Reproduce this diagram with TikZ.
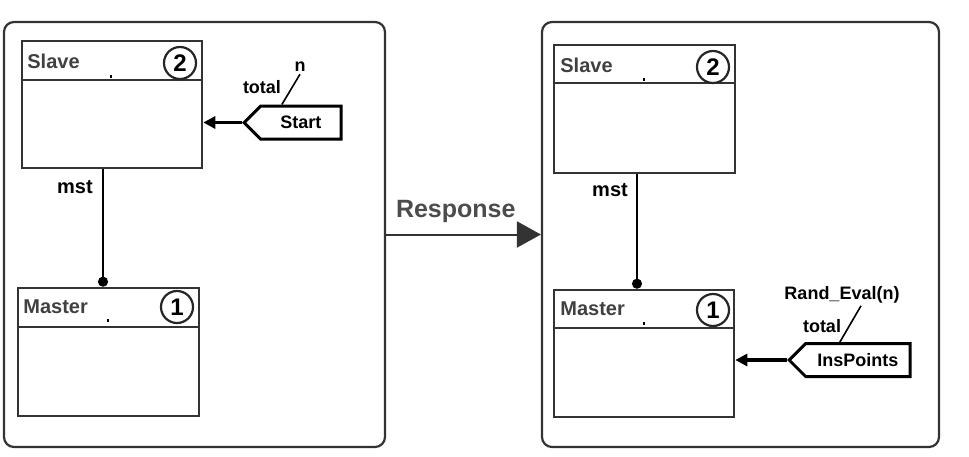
\documentclass[tikz,border=0pt]{standalone}
\usepackage{fontspec}
\setmainfont{Liberation Sans}
\usetikzlibrary{arrows.meta,shapes.symbols}
\begin{document}
\begin{tikzpicture}[x=0.5pt,y=-0.5pt,font=\bfseries,
  frame/.style={draw=black!80, line width=1.1pt, rounded corners=5pt, minimum height=212.5pt, inner sep=0pt},
  cls/.style={draw=black!80, line width=1.3pt, inner sep=0pt},
  num/.style={circle, draw=black!85, line width=1.1pt, minimum size=16pt, inner sep=0pt, font=\bfseries\large},
  ttl/.style={anchor=west, inner sep=0pt, text=black!75},
  tag/.style={signal, signal to=west, draw=black, line width=1.5pt, inner sep=0pt, minimum height=16.5pt, anchor=west, font=\bfseries\small},
  lbl/.style={inner sep=1pt, font=\bfseries\small},
  feed/.style={line width=1.6pt, -{Triangle[length=6pt,width=6pt]}},
  link/.style={line width=1.2pt, {Circle[length=5pt]}-},
  tie/.style={line width=0.8pt},
  resp/.style={draw=black!80, line width=1pt, -{Triangle[length=12pt,width=13pt]}}]
\useasboundingbox (0,0) rectangle (969,456);
% frames
\node[frame, minimum width=190.5pt] (lframe) at (194.5,234.5) {};
\node[frame, minimum width=198.5pt] (rframe) at (740.5,234.5) {};
\draw[resp] (lframe.east) -- (rframe.west) node[pos=0.45, above=2pt, text=black!70, font=\bfseries\fontsize{12.5}{15}\selectfont]{Response};
% left side
\node[cls, minimum width=90pt, minimum height=63.5pt] (slaveL) at (112,104.5) {};
\draw[cls] (slaveL.west |- 0,80) -- (slaveL.east |- 0,80);
\draw[line width=0.6pt] (111,75) -- (111,78);
\node[ttl] at (27,61) {Slave};
\node[num] (twoL) at (180,63) {2};
\node[cls, minimum width=90.5pt, minimum height=64pt] (masterL) at (108.5,352) {};
\draw[cls] (masterL.west |- 0,327) -- (masterL.east |- 0,327);
\draw[line width=0.6pt] (108,319) -- (108,322);
\node[ttl] at (23,307) {Master};
\node[num] (oneL) at (177,307) {1};
\coordinate (mstL) at (103,0);
\draw[link] (masterL.north -| mstL) -- (slaveL.south -| mstL);
\node at (75,187) {mst};
\node[tag, minimum width=48.5pt] (start) at (242,122.5) {Start};
\draw[feed] (start.west) -- (start.west -| slaveL.east);
\node[lbl] (nL) at (300,67) {n};
\node[lbl] at (262,87) {total};
\draw[tie] ([xshift=-9.5pt]start.north) -- (nL.south);
% right side
\node[cls, minimum width=90.5pt, minimum height=64pt] (slaveR) at (644.5,109) {};
\draw[cls] (slaveR.west |- 0,83) -- (slaveR.east |- 0,83);
\draw[line width=0.6pt] (644,78) -- (644,81);
\node[ttl] at (560,65) {Slave};
\node[num] (twoR) at (713,67) {2};
\node[cls, minimum width=90pt, minimum height=63.5pt] (masterR) at (644,353.5) {};
\draw[cls] (masterR.west |- 0,328) -- (masterR.east |- 0,328);
\draw[line width=0.6pt] (644,322) -- (644,325);
\node[ttl] at (560,309) {Master};
\node[num] (oneR) at (713,310) {1};
\coordinate (mstR) at (637,0);
\draw[link] (masterR.north -| mstR) -- (slaveR.south -| mstR);
\node at (610,190) {mst};
\node[tag, minimum width=60.5pt] (ins) at (787,360) {InsPoints};
\draw[feed] (ins.west) -- (ins.west -| masterR.east);
\node[lbl] (rand) at (842,295) {Rand\_Eval(n)};
\node[lbl] at (822,326) {total};
\draw[tie] ([xshift=-9pt]ins.north) -- ([xshift=9.5pt]rand.south);
\end{tikzpicture}
\end{document}
